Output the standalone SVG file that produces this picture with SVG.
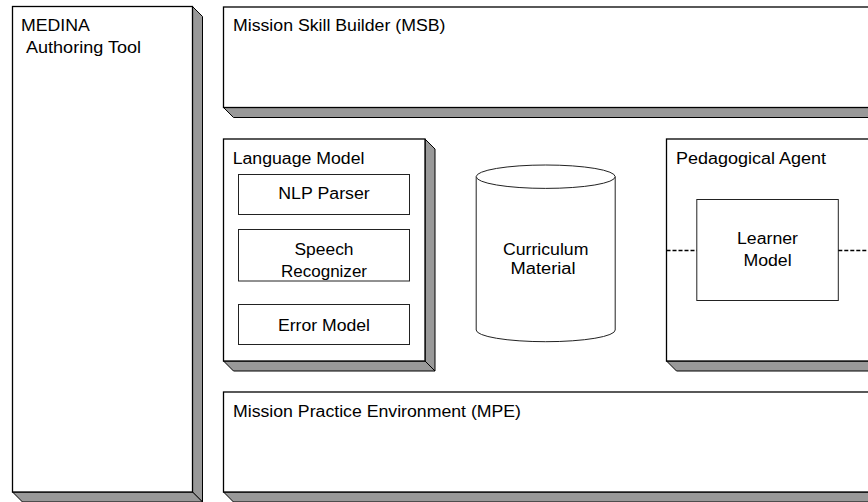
<svg xmlns="http://www.w3.org/2000/svg" width="868" height="502" viewBox="0 0 868 502">
<style>
.front{fill:#fff;stroke:#000;stroke-width:1.3}
.shade{fill:#999;stroke:#000;stroke-width:1;stroke-linejoin:miter}
.inner{fill:#fff;stroke:#222;stroke-width:1}
.t{font-family:"Liberation Sans",Arial,sans-serif;font-size:16px;fill:#000}
.c{text-anchor:middle}
.dash{stroke:#000;stroke-width:1.5;stroke-dasharray:4 2;fill:none}
</style>
<rect width="868" height="502" fill="#fff"/>

<g id="medina">
  <polygon class="shade" points="192.5,6.5 202.5,16.5 202.5,502 192.5,492"/>
  <polygon class="shade" points="12.5,492 192.5,492 202.5,502 22.5,502"/>
  <rect class="front" x="12.5" y="6.5" width="180" height="485.5"/>
  <text class="t" x="21" y="31" textLength="68.8" lengthAdjust="spacingAndGlyphs">MEDINA</text>
  <text class="t" x="26" y="52.5" textLength="115" lengthAdjust="spacingAndGlyphs">Authoring Tool</text>
</g>

<g id="msb">
  <polygon class="shade" points="223.5,107.5 880,107.5 890,117.5 233.5,117.5"/>
  <rect class="front" x="223.5" y="7" width="660" height="100.5"/>
  <text class="t" x="233" y="31" textLength="212.4" lengthAdjust="spacingAndGlyphs">Mission Skill Builder (MSB)</text>
</g>

<g id="language-model">
  <polygon class="shade" points="425,139 435,149 435,371 425,361"/>
  <polygon class="shade" points="223.5,361 425,361 435,371 233.5,371"/>
  <rect class="front" x="223.5" y="139" width="201.5" height="222"/>
  <text class="t" x="232.7" y="164" textLength="131.8" lengthAdjust="spacingAndGlyphs">Language Model</text>
</g>

<g id="nlp-parser">
  <rect class="inner" x="238.5" y="174.5" width="171" height="40"/>
  <text class="t c" x="324" y="199" textLength="91.4" lengthAdjust="spacingAndGlyphs">NLP Parser</text>
</g>

<g id="speech-recognizer">
  <rect class="inner" x="238.5" y="229.5" width="171" height="51.5"/>
  <text class="t c" x="324" y="255" textLength="59" lengthAdjust="spacingAndGlyphs">Speech</text>
  <text class="t c" x="324" y="276.7" textLength="86" lengthAdjust="spacingAndGlyphs">Recognizer</text>
</g>

<g id="error-model">
  <rect class="inner" x="238.5" y="304.5" width="171" height="40"/>
  <text class="t c" x="324" y="330.7" textLength="92" lengthAdjust="spacingAndGlyphs">Error Model</text>
</g>

<g id="curriculum-material">
  <path class="inner" d="M476.2,176.7 L476.2,330 A69.5,11.7 0 0 0 615.2,330 L615.2,176.7"/>
  <ellipse class="inner" cx="545.7" cy="176.7" rx="69.5" ry="11.7"/>
  <text class="t c" x="545.7" y="255" textLength="85.5" lengthAdjust="spacingAndGlyphs">Curriculum</text>
  <text class="t c" x="543" y="274" textLength="65" lengthAdjust="spacingAndGlyphs">Material</text>
</g>

<g id="pedagogical-agent">
  <polygon class="shade" points="666.5,361 880,361 890,371 676.5,371"/>
  <rect class="front" x="666.5" y="139" width="220" height="222"/>
  <text class="t" x="676" y="164" textLength="150" lengthAdjust="spacingAndGlyphs">Pedagogical Agent</text>
</g>

<g id="learner-model">
  <rect class="inner" x="696.8" y="199.5" width="141.5" height="101"/>
  <text class="t c" x="767.5" y="244.3" textLength="61" lengthAdjust="spacingAndGlyphs">Learner</text>
  <text class="t c" x="767.5" y="265.7" textLength="48.2" lengthAdjust="spacingAndGlyphs">Model</text>
</g>

<g id="mpe">
  <polygon class="shade" points="223.5,492 880,492 890,502 233.5,502"/>
  <rect class="front" x="223.5" y="392" width="660" height="100"/>
  <text class="t" x="233" y="416.7" textLength="288" lengthAdjust="spacingAndGlyphs">Mission Practice Environment (MPE)</text>
</g>

<g id="connectors">
  <line class="dash" x1="666.5" y1="250.5" x2="696.8" y2="250.5"/>
  <line class="dash" x1="838.3" y1="250.5" x2="868" y2="250.5"/>
</g>
</svg>
